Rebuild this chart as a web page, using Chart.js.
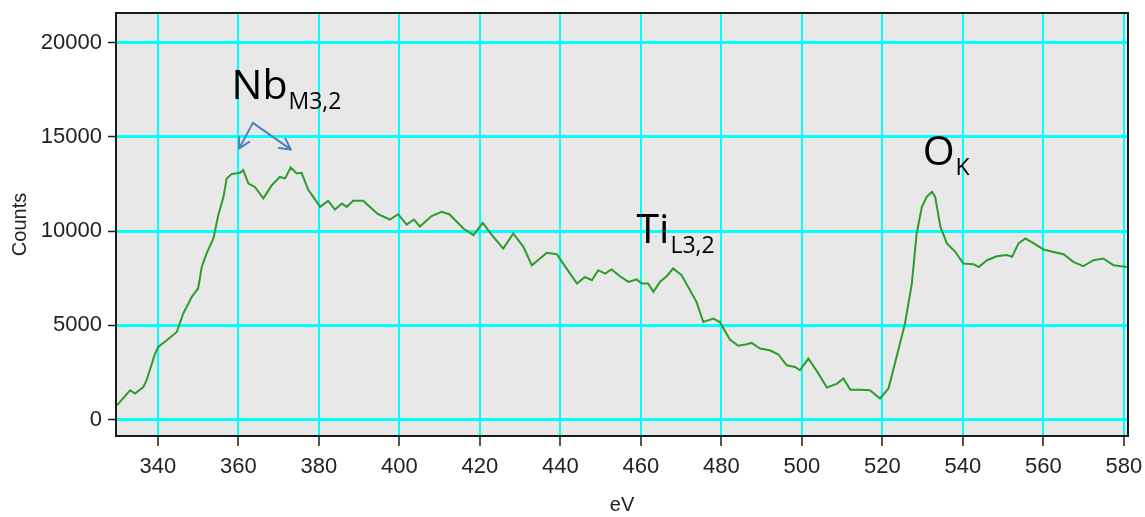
<!DOCTYPE html>
<html>
<head>
<meta charset="utf-8">
<title>EELS spectrum</title>
<script src="https://cdn.jsdelivr.net/npm/chart.js@4/dist/chart.umd.min.js"></script>
<style>
  html, body { margin: 0; padding: 0; background: #ffffff; }
  #wrap { width: 1145px; height: 517px; position: relative; }
</style>
</head>
<body>
<div id="wrap"><canvas id="spectrum" width="1145" height="517"></canvas></div>
<script>
// Energy loss (eV) and detector counts of the spectrum
const energies = [
  329.8, 333.1, 334.3, 336.4, 337.2, 339.3, 340.1, 342.2, 344.7, 346.3,
  348.4, 350.0, 350.9, 352.1, 353.8, 355.0, 356.3, 357.1, 358.3, 360.4,
  361.2, 362.5, 364.1, 366.2, 368.3, 370.3, 371.6, 373.0, 374.5, 375.7,
  377.4, 378.6, 380.3, 382.3, 384.0, 385.7, 386.9, 388.5, 391.0, 392.7,
  394.7, 397.6, 399.7, 401.8, 403.6, 405.1, 408.0, 410.5, 412.4, 415.9,
  418.4, 420.7, 423.0, 425.8, 428.3, 430.8, 432.9, 434.9, 436.6, 439.1,
  440.7, 444.1, 446.1, 447.8, 449.4, 451.1, 452.7, 454.8, 456.9, 458.9,
  460.2, 461.8, 463.1, 464.7, 466.4, 468.0, 470.1, 472.2, 473.8, 475.5,
  478.0, 479.6, 482.1, 484.2, 486.3, 487.5, 489.6, 492.0, 494.1, 496.2,
  498.3, 499.5, 501.6, 504.1, 506.2, 508.7, 510.3, 512.0, 514.4, 516.9,
  519.4, 521.5, 523.5, 525.6, 527.3, 528.5, 529.8, 531.0, 532.3, 533.1,
  534.4, 536.0, 538.1, 540.1, 542.6, 543.9, 546.0, 548.4, 550.9, 552.2,
  553.8, 555.5, 557.6, 560.0, 562.5, 565.0, 567.4, 569.9, 572.4, 574.9,
  577.4, 580.7
];
const counts = [
   760,  1560,  1380,  1730,  2090,  3500,  3860,  4210,  4650,  5630,
  6510,  6960,  8100,  8820,  9610, 10850, 11820, 12800, 13030, 13100,
 13240, 12530, 12350, 11740, 12440, 12880, 12800, 13380, 13060, 13100,
 12180, 11820, 11290, 11610, 11150, 11470, 11290, 11610, 11610, 11290,
 10900, 10620, 10900, 10350, 10620, 10250, 10800, 11030, 10900, 10140,
  9790, 10440,  9790,  9080,  9880,  9170,  8190,  8550,  8850,  8780,
  8280,  7220,  7570,  7400,  7930,  7750,  7970,  7610,  7310,  7440,
  7220,  7220,  6780,  7310,  7610,  8020,  7660,  6870,  6250,  5180,
  5360,  5180,  4250,  3920,  4000,  4070,  3770,  3680,  3470,  2880,
  2790,  2620,  3240,  2440,  1700,  1910,  2180,  1590,  1590,  1560,
  1120,  1650,  3320,  5100,  7220,  9880, 11290, 11820, 12090, 11820,
 10230,  9350,  8900,  8280,  8250,  8100,  8460,  8670,  8730,  8640,
  9350,  9610,  9350,  9030,  8900,  8780,  8370,  8140,  8460,  8550,
  8190,  8100
];

// Axis tick values
const xTicks = [340, 360, 380, 400, 420, 440, 460, 480, 500, 520, 540, 560, 580];
const yTicks = [0, 5000, 10000, 15000, 20000];

// Edge labels: main symbol, subscript, anchor (eV, counts)
const edgeLabels = [
  { main: 'Nb', sub: 'M3,2', x: 358.3, y: 16990 },
  { main: 'Ti', sub: 'L3,2', x: 458.9, y: 9350 },
  { main: 'O',  sub: 'K',    x: 530.0, y: 13500 }
];
// Pointer arrows for the Nb edge: start (eV, counts) -> tip (eV, counts)
const nbArrows = [
  { from: [363.6, 15750], to: [360.2, 14390] },
  { from: [363.6, 15750], to: [373.0, 14340] }
];

const tickFont = { family: 'Liberation Sans', size: 22 };

const plotFrame = {
  id: 'plotFrame',
  beforeDraw(chart) {
    const a = chart.chartArea, ctx = chart.ctx;
    ctx.save();
    ctx.fillStyle = '#e8e8e8';
    ctx.fillRect(a.left, a.top, a.right - a.left, a.bottom - a.top);
    ctx.restore();
  },
  afterDatasetsDraw(chart) {
    const a = chart.chartArea, ctx = chart.ctx;
    ctx.save();
    ctx.strokeStyle = '#1a1a1a';
    ctx.lineWidth = 2;
    ctx.strokeRect(a.left, a.top, a.right - a.left, a.bottom - a.top);
    ctx.restore();
  }
};

const edgeAnnotations = {
  id: 'edgeAnnotations',
  afterDraw(chart) {
    const ctx = chart.ctx, xs = chart.scales.x, ys = chart.scales.y;
    ctx.save();
    ctx.fillStyle = '#000000';
    ctx.textBaseline = 'alphabetic';
    ctx.textAlign = 'left';
    edgeLabels.forEach(l => {
      const px = xs.getPixelForValue(l.x), py = ys.getPixelForValue(l.y);
      ctx.font = '41px "Open Sans"';
      ctx.fillText(l.main, px, py);
      const w = ctx.measureText(l.main).width;
      ctx.font = '23px "Open Sans"';
      ctx.fillText(l.sub, px + w + 1, py + 10);
    });
    ctx.strokeStyle = '#4f81bd';
    ctx.lineWidth = 2;
    ctx.lineCap = 'round';
    ctx.lineJoin = 'round';
    nbArrows.forEach(a => {
      const x0 = xs.getPixelForValue(a.from[0]), y0 = ys.getPixelForValue(a.from[1]);
      const x1 = xs.getPixelForValue(a.to[0]), y1 = ys.getPixelForValue(a.to[1]);
      ctx.beginPath();
      ctx.moveTo(x0, y0);
      ctx.lineTo(x1, y1);
      ctx.stroke();
      const ang = Math.atan2(y1 - y0, x1 - x0), hl = 12, spread = 0.5;
      ctx.beginPath();
      ctx.moveTo(x1 - hl * Math.cos(ang - spread), y1 - hl * Math.sin(ang - spread));
      ctx.lineTo(x1, y1);
      ctx.lineTo(x1 - hl * Math.cos(ang + spread), y1 - hl * Math.sin(ang + spread));
      ctx.stroke();
    });
    ctx.restore();
  }
};

new Chart(document.getElementById('spectrum'), {
  type: 'line',
  data: {
    datasets: [{
      data: energies.map((e, i) => ({ x: e, y: counts[i] })),
      borderColor: '#2c9c2c',
      borderWidth: 2,
      pointRadius: 0,
      tension: 0,
      fill: false
    }]
  },
  options: {
    responsive: false,
    animation: false,
    events: [],
    layout: { padding: { top: 13, right: 17, left: 0, bottom: 0 } },
    plugins: { legend: { display: false }, tooltip: { enabled: false } },
    scales: {
      x: {
        type: 'linear',
        min: 329.6,
        max: 581,
        afterBuildTicks: s => { s.ticks = xTicks.map(v => ({ value: v })); },
        afterFit: s => { s.height = 81; s.paddingLeft = 0; s.paddingRight = 0; },
        grid: { color: '#00ffff', lineWidth: 2, tickColor: '#1a1a1a', tickWidth: 1.5, tickLength: 10 },
        border: { display: false },
        ticks: { font: tickFont, color: '#222222', padding: 8, maxRotation: 0, autoSkip: false },
        title: { display: true, text: 'eV', color: '#222222',
                 font: { family: 'Liberation Sans', size: 20, lineHeight: 1.2 }, padding: { top: 0, bottom: 0 } }
      },
      y: {
        type: 'linear',
        min: -870,
        max: 21580,
        afterBuildTicks: s => { s.ticks = yTicks.map(v => ({ value: v })); },
        afterFit: s => { s.width = 116; s.paddingTop = 0; s.paddingBottom = 0; },
        grid: { color: '#00ffff', lineWidth: 3, tickColor: '#1a1a1a', tickWidth: 1.5, tickLength: 8 },
        border: { display: false },
        ticks: { font: tickFont, color: '#222222', padding: 6, callback: v => String(v) },
        title: { display: true, text: 'Counts', color: '#222222',
                 font: { family: 'Liberation Sans', size: 20, lineHeight: 1.2 }, padding: { top: 8, bottom: 0 } }
      }
    }
  },
  plugins: [plotFrame, edgeAnnotations]
});
</script>
</body>
</html>
